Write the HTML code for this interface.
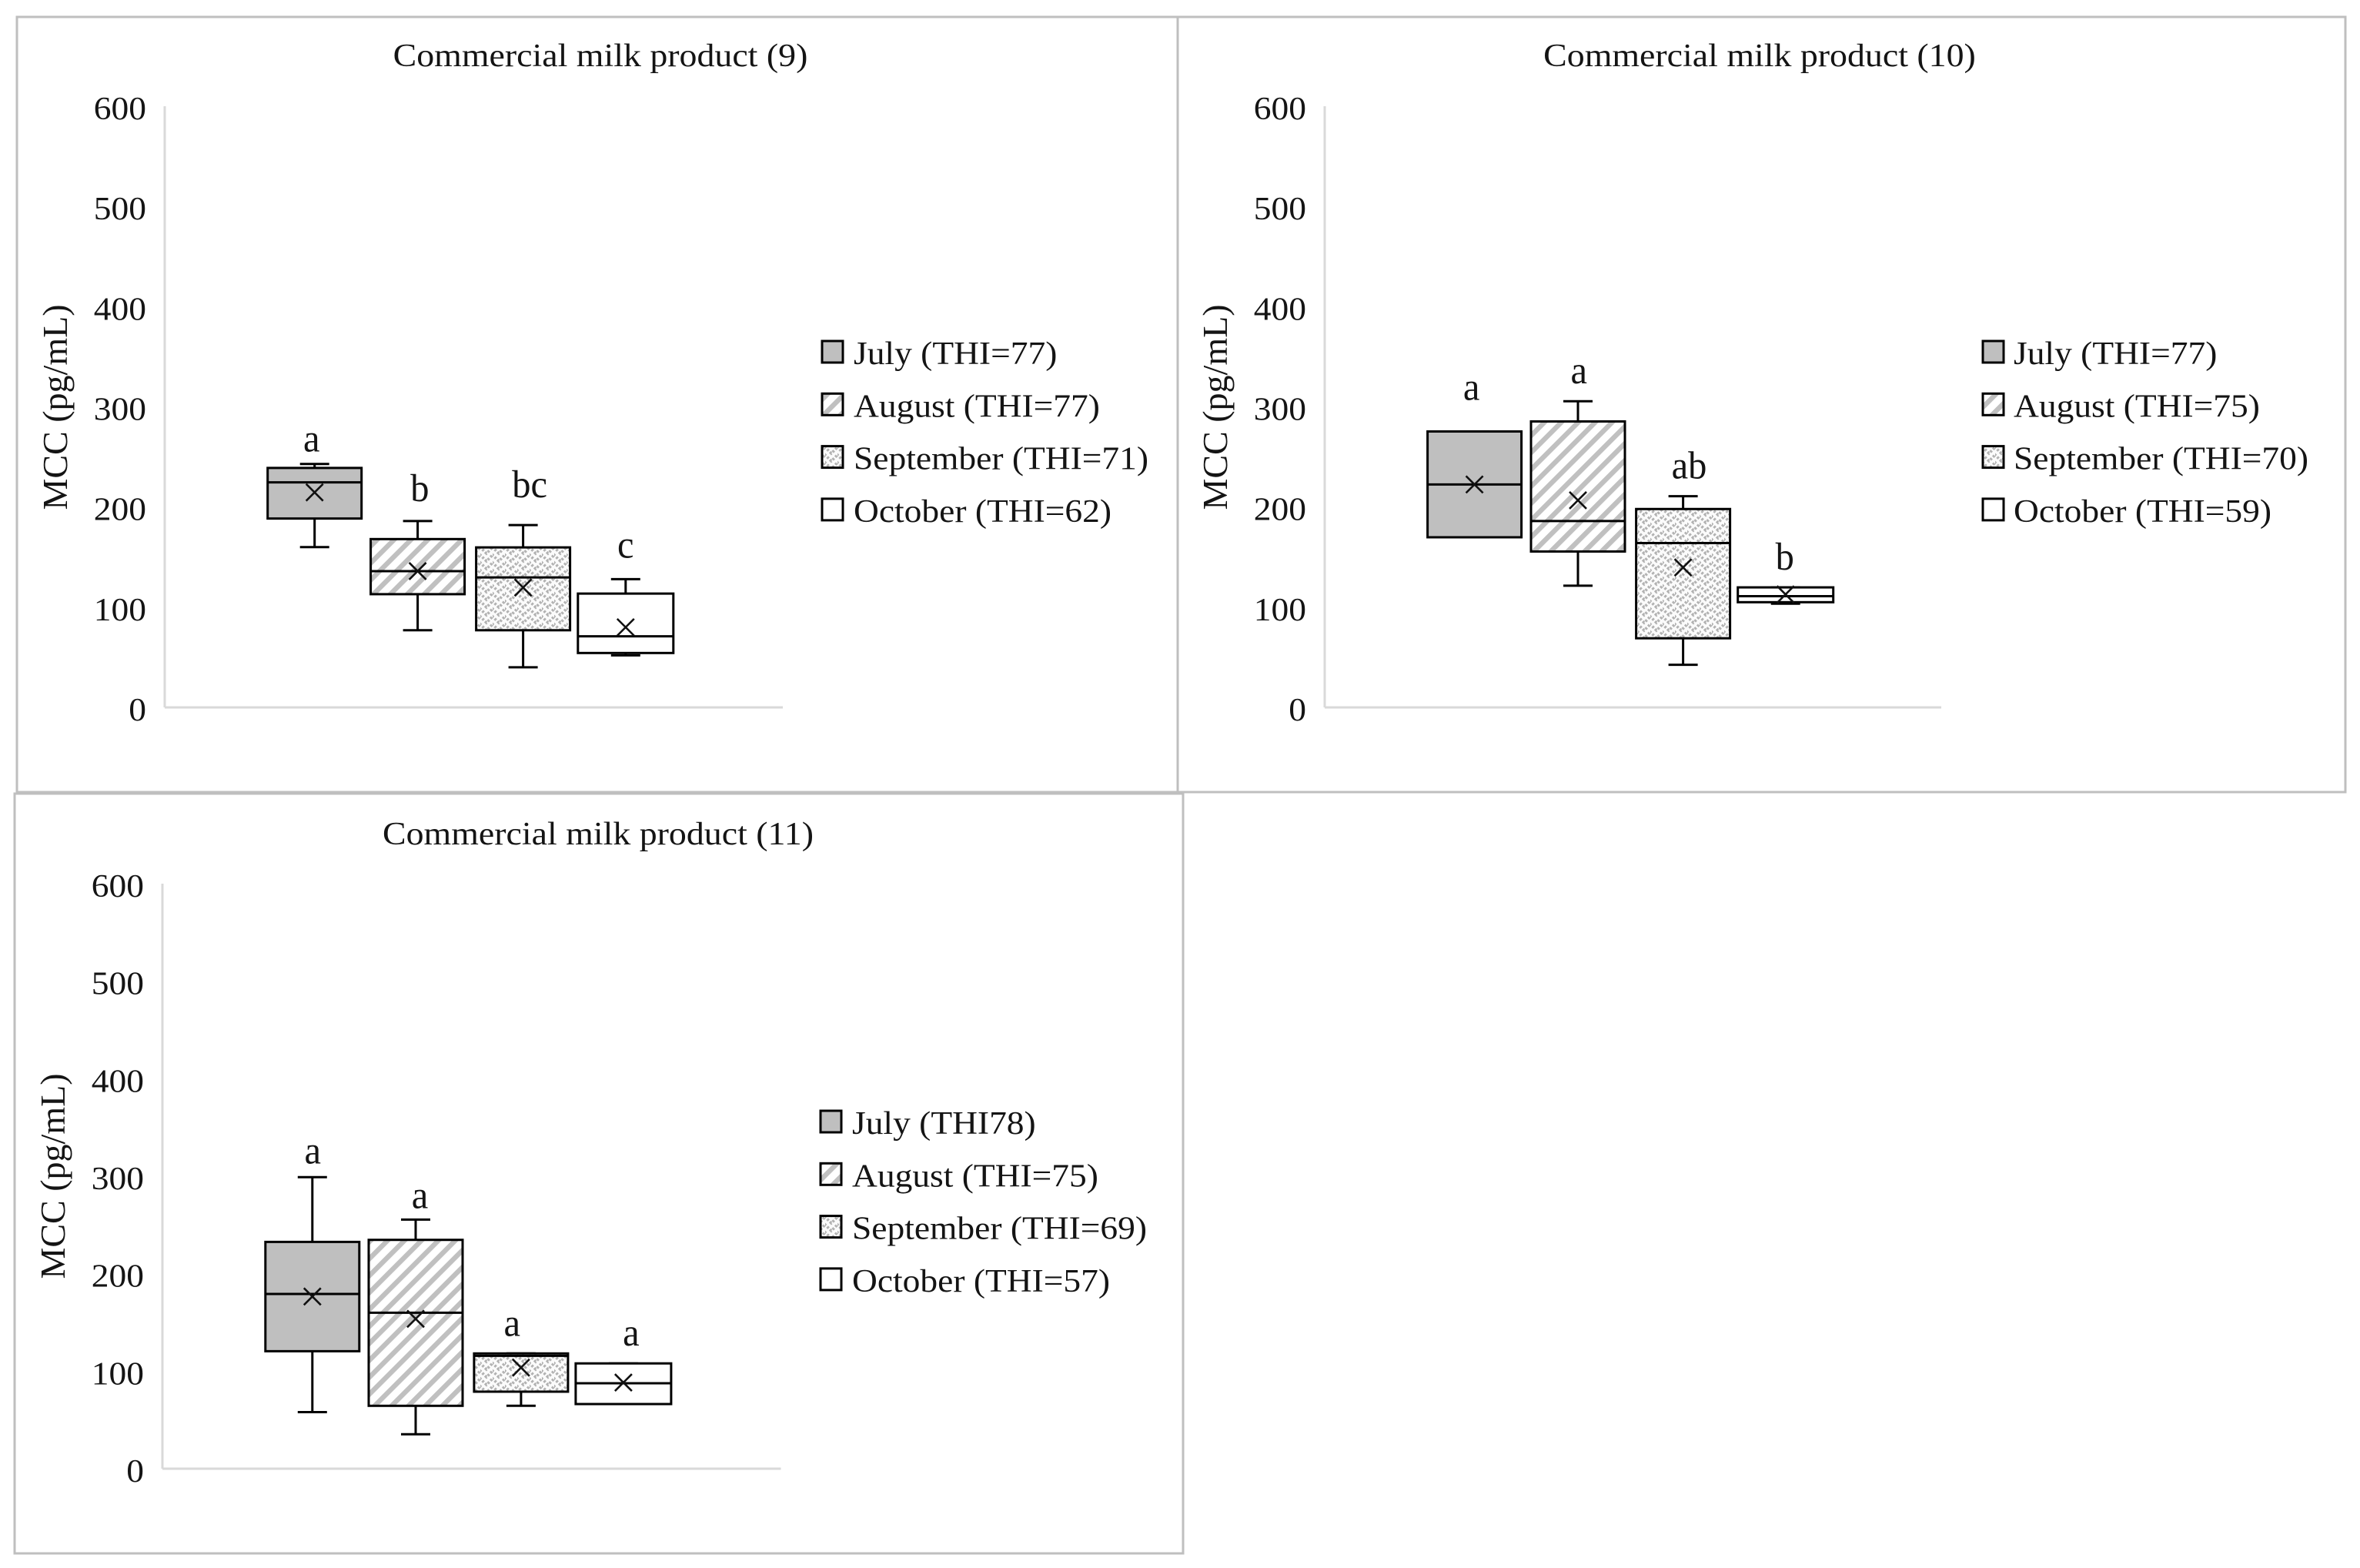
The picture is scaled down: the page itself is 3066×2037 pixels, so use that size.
<!DOCTYPE html>
<html lang="en">
<head>
<meta charset="utf-8">
<title>Commercial milk product MCC box plots</title>
<style>
  html, body { margin: 0; padding: 0; background: #fff; }
  svg { display: block; }
  text { font-family: "Liberation Serif", "Times New Roman", serif; fill: #141414; }
</style>
</head>
<body>
<svg id="figure" xmlns="http://www.w3.org/2000/svg" width="3066" height="2037" viewBox="0 0 3066 2037">
  <defs>
    <pattern id="stripe" patternUnits="userSpaceOnUse" width="15.556" height="15.556" patternTransform="rotate(45) translate(-1,0)">
      <rect width="15.556" height="15.556" fill="#fff"/>
      <rect x="0" y="0" width="6.4" height="15.556" fill="#c0c0c0"/>
    </pattern>
    <pattern id="zigzag" patternUnits="userSpaceOnUse" width="16" height="10">
      <rect width="16" height="10" fill="#fbfbfb"/>
      <polyline points="-8,9 0,1 8,9 16,1 24,9" fill="none" stroke="#b2b2b2" stroke-width="3.6" stroke-dasharray="2.8 2.2"/>
      <polyline points="-8,19 0,11 8,19 16,11 24,19" fill="none" stroke="#b2b2b2" stroke-width="3.6" stroke-dasharray="2.8 2.2"/>
      <polyline points="-8,-1 0,-9 8,-1 16,-9 24,-1" fill="none" stroke="#b2b2b2" stroke-width="3.6" stroke-dasharray="2.8 2.2"/>
    </pattern>
  </defs>
  <rect x="0" y="0" width="3066" height="2037" fill="#fff"/>

  <g id="panel-9">
    <rect x="22" y="22" width="1508" height="1007" fill="#fff" stroke="#bfbfbf" stroke-width="3"/>
    <text transform="translate(780,86) scale(1.092,1)" text-anchor="middle" font-size="42">Commercial milk product (9)</text>
    <text transform="translate(87,529) rotate(-90)" text-anchor="middle" font-size="46">MCC (pg/mL)</text>
  </g>

  <g id="panel-10">
    <rect x="1530" y="22" width="1517" height="1007" fill="#fff" stroke="#bfbfbf" stroke-width="3"/>
    <text transform="translate(2286,86) scale(1.092,1)" text-anchor="middle" font-size="42">Commercial milk product (10)</text>
    <text transform="translate(1594,529) rotate(-90)" text-anchor="middle" font-size="46">MCC (pg/mL)</text>
  </g>

  <g id="panel-11">
    <rect x="19" y="1031" width="1518" height="987" fill="#fff" stroke="#bfbfbf" stroke-width="3"/>
    <text transform="translate(777,1097) scale(1.092,1)" text-anchor="middle" font-size="42">Commercial milk product (11)</text>
    <text transform="translate(84,1528) rotate(-90)" text-anchor="middle" font-size="46">MCC (pg/mL)</text>
  </g>
</svg>

<script>
// ---- Data ----
const yTickLabels = [0, 100, 200, 300, 400, 500, 600];
const yMax = 600;

const legend9 = ['July (THI=77)', 'August (THI=77)', 'September (THI=71)', 'October (THI=62)'];
const low9 = [160, 77, 40, 52];
const q19 = [188.5, 113, 77, 54.3];
const median9 = [224.6, 136, 129.7, 71];
const q39 = [239, 168, 159.7, 113.6];
const high9 = [243, 186, 182, 128];
const mean9 = [214.6, 136, 119.6, 80];
const letters9 = ['a', 'b', 'bc', 'c'];

const legend10 = ['July (THI=77)', 'August (THI=75)', 'September (THI=70)', 'October (THI=59)'];
const low10 = [169.8, 121.5, 42.5, 103.5];
const q110 = [169.8, 155.6, 69, 105];
const median10 = [222.5, 186, 164, 111];
const q310 = [275.4, 285.4, 198, 119.8];
const high10 = [275.4, 305.6, 210.8, 119.8];
const mean10 = [222.5, 206.7, 139.7, 112.8];
const letters10 = ['a', 'a', 'ab', 'b'];

const legend11 = ['July (THI78)', 'August (THI=75)', 'September (THI=69)', 'October (THI=57)'];
const low11 = [58, 35.3, 64.5, 66.3];
const q111 = [120.5, 64.5, 79, 66.3];
const median11 = [179.2, 160, 115.8, 87.6];
const q311 = [232.6, 234.7, 118.2, 108];
const high11 = [299, 255.5, 118.2, 108];
const mean11 = [176.6, 153.7, 103.7, 88.4];
const letters11 = ['a', 'a', 'a', 'a'];

// ---- Layout and style ----
const monthFills = ['#bfbfbf', 'url(#stripe)', 'url(#zigzag)', '#ffffff'];
const BOX_WIDTH = 122;
const LAST_BOX_EXTRA = 2;
const CAP_WIDTH = 38;
const MARK_SIZE = 11;
const TEXT_STRETCH = 1.083;
const LETTER_STRETCH = 0.95;
const SVG_NS = 'http://www.w3.org/2000/svg';

const layout9 = {
  id: '9', axisX: 214, axisEnd: 1017, yZero: 919, yTop: 138, firstCenter: 408.7, step: 134.7,
  tickRight: 190, swatchX: 1068, textX: 1109, legendTop: 443, legendStep: 68.3,
  slotDx: [0, -0.8, 1.5, 0],
  letterGap: [16, 26, 36, 28], letterDx: [-4, 2, 10, 0]
};
const layout10 = {
  id: '10', axisX: 1721, axisEnd: 2522, yZero: 919, yTop: 138, firstCenter: 1915.6, step: 134.7,
  tickRight: 1697, swatchX: 2576, textX: 2616, legendTop: 443, legendStep: 68.3,
  slotDx: [0, -0.3, 1.6, 0],
  letterGap: [41, 23, 23, 23], letterDx: [-4, 1, 9.5, -1]
};
const layout11 = {
  id: '11', axisX: 211, axisEnd: 1014.5, yZero: 1908, yTop: 1148, firstCenter: 405.8, step: 134.7,
  tickRight: 187, swatchX: 1066, textX: 1107, legendTop: 1443, legendStep: 68.3,
  slotDx: [0, -0.5, 1.7, 0],
  letterGap: [18, 15, 23, 23], letterDx: [0.5, 5, -10, 10]
};

// ---- Helpers ----
function make(parent, tag, props) {
  const el = document.createElementNS(SVG_NS, tag);
  for (const key in props) el.setAttribute(key, props[key]);
  parent.appendChild(el);
  return el;
}
function yScale(layout, value) {
  return layout.yZero - (value / yMax) * (layout.yZero - layout.yTop);
}
function xCenter(layout, index) {
  return layout.firstCenter + index * layout.step + layout.slotDx[index];
}
function blackLine(parent, x1, y1, x2, y2) {
  return make(parent, 'line', { x1: x1, y1: y1, x2: x2, y2: y2, stroke: '#000', 'stroke-width': 3 });
}

// ---- Drawing ----
function drawAxes(layout) {
  const panel = document.getElementById('panel-' + layout.id);
  const axes = make(panel, 'g', {});
  
  

  const yAxis = make(axes, 'line', { x1: layout.axisX, y1: layout.yTop, x2: layout.axisX, y2: layout.yZero, stroke: '#d9d9d9', 'stroke-width': 3 });
  
  

  const xAxis = make(axes, 'line', { x1: layout.axisX, y1: layout.yZero, x2: layout.axisEnd, y2: layout.yZero, stroke: '#d9d9d9', 'stroke-width': 3 });
  
  

  yTickLabels.forEach(function (tick) {
    const y = yScale(layout, tick) + 17;
    const label = make(axes, 'text', {
      transform: 'translate(' + layout.tickRight + ',' + y + ') scale(' + TEXT_STRETCH + ',1)',
      'text-anchor': 'end',
      'font-size': 42
    });
    label.textContent = String(tick);
    
    
  });
}

function drawBox(layout, index, low, q1, median, q3, high, mean, letter) {
  const panel = document.getElementById('panel-' + layout.id);
  const cx = xCenter(layout, index);
  const boxWidth = BOX_WIDTH + (index === 3 ? LAST_BOX_EXTRA : 0);
  const left = cx - boxWidth / 2;
  const right = cx + boxWidth / 2;

  const group = make(panel, 'g', {});
  
  

  const upper = blackLine(group, cx, yScale(layout, q3), cx, yScale(layout, high));
  
  

  const lower = blackLine(group, cx, yScale(layout, q1), cx, yScale(layout, low));
  
  

  const upperCap = blackLine(group, cx - CAP_WIDTH / 2, yScale(layout, high), cx + CAP_WIDTH / 2, yScale(layout, high));
  
  

  const lowerCap = blackLine(group, cx - CAP_WIDTH / 2, yScale(layout, low), cx + CAP_WIDTH / 2, yScale(layout, low));
  
  

  const rect = make(group, 'rect', {
    x: left,
    y: yScale(layout, q3),
    width: boxWidth,
    height: yScale(layout, q1) - yScale(layout, q3),
    fill: monthFills[index],
    stroke: '#000',
    'stroke-width': 3
  });
  
  

  const medianLine = blackLine(group, left, yScale(layout, median), right, yScale(layout, median));
  
  

  const my = yScale(layout, mean);
  const meanMark = make(group, 'path', {
    d: 'M' + (cx - MARK_SIZE) + ' ' + (my - MARK_SIZE) + 'L' + (cx + MARK_SIZE) + ' ' + (my + MARK_SIZE) +
       'M' + (cx - MARK_SIZE) + ' ' + (my + MARK_SIZE) + 'L' + (cx + MARK_SIZE) + ' ' + (my - MARK_SIZE),
    stroke: '#111',
    'stroke-width': 2.6,
    fill: 'none'
  });
  
  

  const letterY = yScale(layout, high) - layout.letterGap[index];
  const letterX = cx + layout.letterDx[index] - layout.slotDx[index];
  const letterText = make(group, 'text', {
    transform: 'translate(' + letterX + ',' + letterY + ') scale(' + LETTER_STRETCH + ',1)',
    'text-anchor': 'middle',
    'font-size': 51
  });
  letterText.textContent = letter;
  
  
}

function drawLegend(layout, labels) {
  const panel = document.getElementById('panel-' + layout.id);
  const legend = make(panel, 'g', {});
  
  

  labels.forEach(function (labelText, index) {
    const top = layout.legendTop + index * layout.legendStep;

    const entry = make(legend, 'g', {});
    
    

    const swatch = make(entry, 'rect', {
      x: layout.swatchX, y: top, width: 27, height: 28,
      fill: monthFills[index], stroke: '#000', 'stroke-width': 3
    });
    
    

    const label = make(entry, 'text', {
      transform: 'translate(' + layout.textX + ',' + (top + 30) + ') scale(' + TEXT_STRETCH + ',1)',
      'font-size': 42
    });
    label.textContent = labelText;
    
    
  });
}

function drawPanel(layout, legendLabels, low, q1, median, q3, high, mean, letters) {
  drawAxes(layout);
  q1.forEach(function (_, i) {
    drawBox(layout, i, low[i], q1[i], median[i], q3[i], high[i], mean[i], letters[i]);
  });
  drawLegend(layout, legendLabels);
}

drawPanel(layout9, legend9, low9, q19, median9, q39, high9, mean9, letters9);
drawPanel(layout10, legend10, low10, q110, median10, q310, high10, mean10, letters10);
drawPanel(layout11, legend11, low11, q111, median11, q311, high11, mean11, letters11);
</script>
</body>
</html>
